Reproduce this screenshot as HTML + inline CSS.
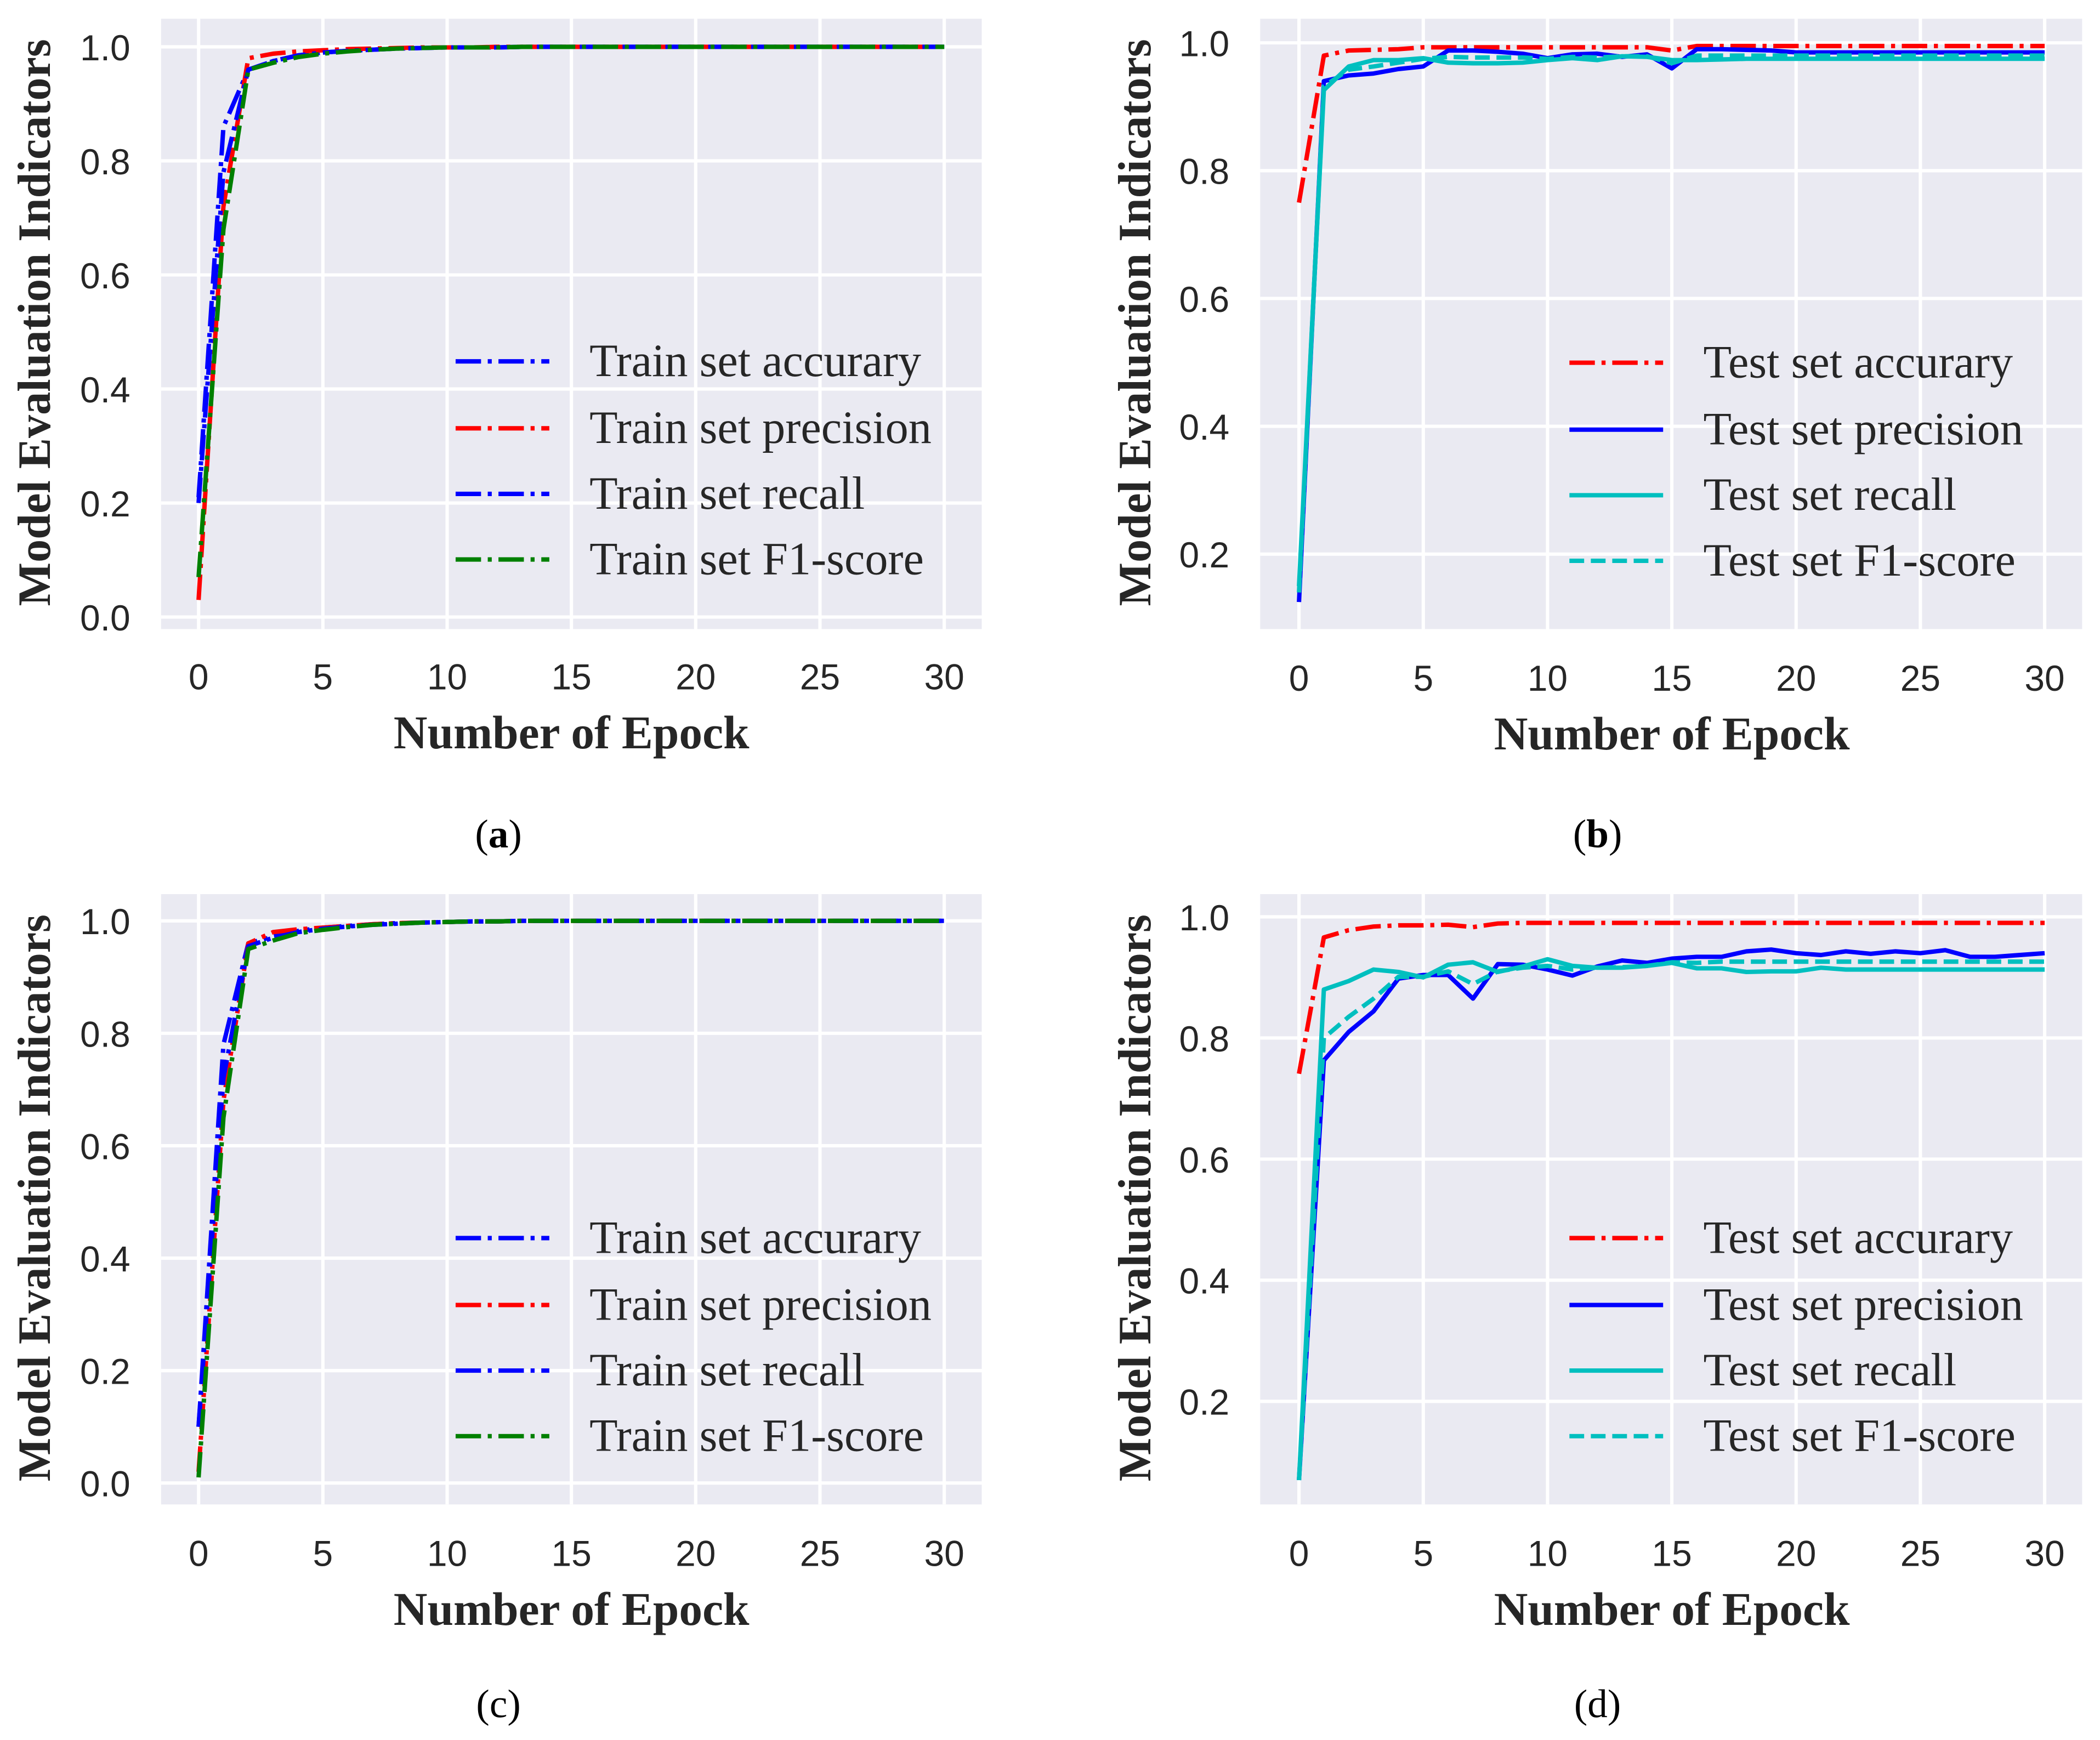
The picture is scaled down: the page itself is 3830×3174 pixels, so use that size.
<!DOCTYPE html>
<html><head><meta charset="utf-8"><style>html,body{margin:0;padding:0;background:#fff}svg{display:block}</style></head>
<body>
<svg id="fig" xmlns="http://www.w3.org/2000/svg" width="3830" height="3174" viewBox="0 0 1568 1300"></svg>
<script>
const epochs = Array.from({length:31},(_,i)=>i);
const xTicks = [0,5,10,15,20,25,30];
const yTicksFull = [0.0,0.2,0.4,0.6,0.8,1.0];
const yTicksPart = [0.2,0.4,0.6,0.8,1.0];

const aAcc = [0.21,0.86,0.96,0.975,0.985,0.99,0.993,0.995,0.997,0.998,0.999,0.999,0.999,1,1,1,1,1,1,1,1,1,1,1,1,1,1,1,1,1,1];
const aPre = [0.03,0.72,0.98,0.988,0.992,0.994,0.996,0.997,0.998,0.999,0.999,0.999,1,1,1,1,1,1,1,1,1,1,1,1,1,1,1,1,1,1,1];
const aRec = [0.20,0.78,0.96,0.975,0.985,0.99,0.993,0.995,0.997,0.998,0.999,0.999,0.999,1,1,1,1,1,1,1,1,1,1,1,1,1,1,1,1,1,1];
const aF1  = [0.07,0.68,0.96,0.972,0.982,0.988,0.992,0.995,0.997,0.998,0.999,0.999,0.999,1,1,1,1,1,1,1,1,1,1,1,1,1,1,1,1,1,1];

const bAcc = [0.75,0.98,0.988,0.989,0.99,0.993,0.993,0.993,0.993,0.993,0.993,0.993,0.993,0.993,0.993,0.988,0.995,0.995,0.995,0.995,0.995,0.995,0.995,0.995,0.995,0.995,0.995,0.995,0.995,0.995,0.995];
const bPre = [0.125,0.94,0.949,0.952,0.959,0.963,0.988,0.988,0.986,0.983,0.976,0.982,0.983,0.978,0.982,0.96,0.99,0.99,0.989,0.988,0.985,0.985,0.985,0.985,0.985,0.985,0.985,0.985,0.985,0.985,0.985];
const bRec = [0.15,0.926,0.963,0.973,0.973,0.976,0.969,0.968,0.968,0.969,0.973,0.976,0.973,0.979,0.978,0.973,0.973,0.974,0.975,0.975,0.975,0.975,0.975,0.975,0.975,0.975,0.975,0.975,0.975,0.975,0.975];
const bF1  = [0.14,0.932,0.958,0.963,0.969,0.975,0.978,0.977,0.977,0.977,0.975,0.978,0.977,0.979,0.979,0.968,0.98,0.98,0.98,0.98,0.98,0.98,0.98,0.98,0.98,0.98,0.98,0.98,0.98,0.98,0.98];

const cAcc = [0.10,0.78,0.96,0.972,0.982,0.988,0.991,0.994,0.996,0.997,0.998,0.999,0.999,1,1,1,1,1,1,1,1,1,1,1,1,1,1,1,1,1,1];
const cPre = [0.02,0.68,0.96,0.98,0.985,0.988,0.991,0.994,0.996,0.997,0.998,0.999,0.999,1,1,1,1,1,1,1,1,1,1,1,1,1,1,1,1,1,1];
const cRec = [0.10,0.72,0.955,0.97,0.98,0.986,0.99,0.993,0.995,0.997,0.998,0.999,0.999,1,1,1,1,1,1,1,1,1,1,1,1,1,1,1,1,1,1];
const cF1  = [0.01,0.65,0.95,0.965,0.978,0.984,0.989,0.993,0.995,0.997,0.998,0.999,0.999,1,1,1,1,1,1,1,1,1,1,1,1,1,1,1,1,1,1];

const dAcc = [0.741,0.966,0.978,0.984,0.986,0.986,0.987,0.983,0.989,0.99,0.99,0.99,0.99,0.99,0.99,0.99,0.99,0.99,0.99,0.99,0.99,0.99,0.99,0.99,0.99,0.99,0.99,0.99,0.99,0.99,0.99];
const dPre = [0.07,0.763,0.81,0.844,0.898,0.904,0.904,0.865,0.922,0.921,0.913,0.903,0.918,0.928,0.924,0.931,0.934,0.934,0.943,0.946,0.94,0.937,0.943,0.939,0.943,0.94,0.945,0.934,0.934,0.937,0.94];
const dRec = [0.07,0.88,0.894,0.913,0.909,0.9,0.921,0.925,0.909,0.918,0.93,0.919,0.916,0.916,0.919,0.924,0.915,0.915,0.909,0.91,0.91,0.916,0.913,0.913,0.913,0.913,0.913,0.913,0.913,0.913,0.913];
const dF1  = [0.07,0.80,0.835,0.865,0.901,0.901,0.91,0.889,0.91,0.916,0.919,0.913,0.916,0.917,0.919,0.925,0.924,0.926,0.926,0.926,0.926,0.926,0.926,0.926,0.926,0.926,0.926,0.926,0.926,0.926,0.926];

const NS='http://www.w3.org/2000/svg';
const svg=document.getElementById('fig');
function mk(tag,attrs,parent){const e=document.createElementNS(NS,tag);for(const k in attrs)e.setAttribute(k,attrs[k]);(parent||svg).appendChild(e);return e;}
const DD='19,5,3,5', DS='11,5';
const panels=[
 {id:'a',bg:[120,14,613,456],x0:148,x1:705,yA:461,yB:35,yt:yTicksFull,tickY:505,titleY:547,ytX:25,cap:[372,623],bold:true,
  legY:[270,320,369,418],lx:340,
  series:[[aAcc,'#0000ff',DD,'Train set accurary'],[aPre,'#ff0000',DD,'Train set precision'],[aRec,'#0000ff',DD,'Train set recall'],[aF1,'#008000',DD,'Train set F1-score']]},
 {id:'b',bg:[941,14,614,456],x0:970,x1:1527,yA:32+477.5,yB:32,yt:yTicksPart,tickY:506,titleY:548,ytX:847,cap:[1193,623],bold:true,
  legY:[271,321,370,419],lx:1172,
  series:[[bAcc,'#ff0000',DD,'Test set accurary'],[bPre,'#0000ff','','Test set precision'],[bRec,'#00bfbf','','Test set recall'],[bF1,'#00bfbf',DS,'Test set F1-score']]},
 {id:'c',bg:[120,668,613,456],x0:148,x1:705,yA:1108,yB:688,yt:yTicksFull,tickY:1160,titleY:1202,ytX:25,cap:[372,1273],bold:false,
  legY:[925,975,1024,1073],lx:340,
  series:[[cAcc,'#0000ff',DD,'Train set accurary'],[cPre,'#ff0000',DD,'Train set precision'],[cRec,'#0000ff',DD,'Train set recall'],[cF1,'#008000',DD,'Train set F1-score']]},
 {id:'d',bg:[941,668,614,456],x0:970,x1:1527,yA:685+452.5,yB:685,yt:yTicksPart,tickY:1160,titleY:1202,ytX:847,cap:[1193,1273],bold:false,
  legY:[925,975,1024,1073],lx:1172,
  series:[[dAcc,'#ff0000',DD,'Test set accurary'],[dPre,'#0000ff','','Test set precision'],[dRec,'#00bfbf','','Test set recall'],[dF1,'#00bfbf',DS,'Test set F1-score']]}
];
panels.forEach(p=>{
  const g=mk('g',{});
  
  
  const xs=v=>p.x0+(p.x1-p.x0)*v/30;
  const ys=v=>p.yA+(p.yB-p.yA)*v;
  const [bx,by,bw,bh]=p.bg;
  const bg=mk('rect',{x:bx,y:by,width:bw,height:bh,fill:'#eaeaf2'},g);
  
  
  xTicks.forEach(t=>{
    const l=mk('line',{x1:xs(t),x2:xs(t),y1:by,y2:by+bh,stroke:'#fff','stroke-width':2.5},g);
    
    
    const tx=mk('text',{x:xs(t),y:p.tickY+10,'text-anchor':'middle','font-size':27,'font-family':'Liberation Sans, sans-serif',fill:'#262626'},g);
    tx.textContent=String(t);
    
    
  });
  p.yt.forEach(t=>{
    const l=mk('line',{x1:bx,x2:bx+bw,y1:ys(t),y2:ys(t),stroke:'#fff','stroke-width':2.5},g);
    
    
    const tx=mk('text',{x:bx-23,y:ys(t)+10,'text-anchor':'end','font-size':27,'font-family':'Liberation Sans, sans-serif',fill:'#262626'},g);
    tx.textContent=t.toFixed(1);
    
    
  });
  p.series.forEach((s,i)=>{
    const pts=s[0].map((v,k)=>xs(epochs[k]).toFixed(2)+','+ys(v).toFixed(2)).join(' ');
    const a={points:pts,fill:'none',stroke:s[1],'stroke-width':3.3,'stroke-linejoin':'round'};
    if(s[2])a['stroke-dasharray']=s[2];
    const pl=mk('polyline',a,g);
    
    
    const la={x1:p.lx,x2:p.lx+70,y1:p.legY[i],y2:p.legY[i],stroke:s[1],'stroke-width':3.3};
    if(s[2])la['stroke-dasharray']=s[2];
    const ll=mk('line',la,g);
    
    
    const lt=mk('text',{x:p.lx+100,y:p.legY[i]+11,'font-size':34.5,'font-family':'Liberation Serif, serif',fill:'#262626'},g);
    lt.textContent=s[3];
    
    
  });
  const xt=mk('text',{x:(p.x0+p.x1)/2,y:p.titleY+12,'text-anchor':'middle','font-size':35,'font-weight':'bold','font-family':'Liberation Serif, serif',fill:'#262626'},g);
  xt.textContent='Number of Epock';
  
  
  const cy=by+bh/2-1;
  const yt=mk('text',{x:p.ytX+12,y:cy,'text-anchor':'middle','font-size':34.5,'font-weight':'bold','font-family':'Liberation Serif, serif',fill:'#262626',transform:'rotate(-90 '+(p.ytX+12)+' '+cy+')'},g);
  yt.textContent='Model Evaluation Indicators';
  
  
  const cp=mk('text',{x:p.cap[0],y:p.cap[1]+10,'text-anchor':'middle','font-size':30,'font-family':'Liberation Serif, serif',fill:'#000'},g);
  cp.innerHTML='(<tspan font-weight="'+(p.bold?'bold':'normal')+'">'+p.id+'</tspan>)';
  
  
});
</script>
</body></html>
